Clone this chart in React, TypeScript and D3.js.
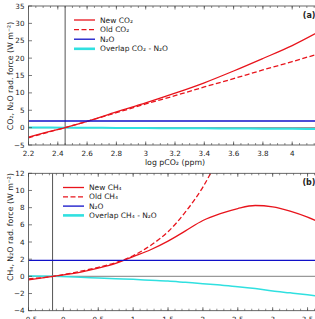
import React from "react";
import * as d3 from "d3";

const co2X = [2.2, 2.3, 2.45, 2.6, 2.8, 3.0, 3.2, 3.4, 3.6, 3.8, 4.0, 4.2];
const newCO2 = [-2.7, -1.6, 0, 1.8, 4.5, 7.1, 9.9, 12.9, 16.3, 19.9, 23.6, 28.0];
const oldCO2 = [-2.9, -1.7, 0, 1.8, 4.3, 6.8, 9.2, 11.7, 14.1, 16.6, 19.0, 21.5];
const overlapCO2 = [0.05, 0.03, 0, -0.04, -0.08, -0.12, -0.17, -0.21, -0.26, -0.3, -0.35, -0.4];
const n2oTop = 1.9;

const ch4X = [-0.5, -0.15, 0.25, 0.5, 0.75, 1.0, 1.25, 1.5, 1.75, 2.0, 2.25, 2.5, 2.75, 3.0, 3.25, 3.5, 3.7];
const newCH4 = [-0.4, 0, 0.5, 0.95, 1.5, 2.3, 3.1, 4.1, 5.3, 6.5, 7.3, 7.9, 8.25, 8.1, 7.6, 6.9, 6.2];
const oldCH4X = [-0.5, -0.15, 0.25, 0.5, 0.75, 1.0, 1.25, 1.5, 1.75, 2.0, 2.25];
const oldCH4 = [-0.3, 0, 0.6, 1.05, 1.6, 2.4, 3.6, 5.2, 7.5, 10.4, 14.2];
const overlapCH4 = [0.05, 0, -0.1, -0.2, -0.28, -0.35, -0.45, -0.55, -0.7, -0.85, -1.02, -1.2, -1.42, -1.7, -1.92, -2.15, -2.35];
const n2oBottom = 1.85;

const topXTicks = [2.2, 2.4, 2.6, 2.8, 3.0, 3.2, 3.4, 3.6, 3.8, 4.0, 4.2];
const topYTicks = [-5, 0, 5, 10, 15, 20, 25, 30, 35];
const botXTicks = [-0.5, 0, 0.5, 1, 1.5, 2, 2.5, 3, 3.5];
const botYTicks = [-4, -2, 0, 2, 4, 6, 8, 10, 12];

const RED = "#e8141c";
const BLUE = "#1010c8";
const CYAN = "#30e0e0";
const FONT = "DejaVu Sans, sans-serif";

const fmt = (v: number) => {
  const s = d3.format("~g")(Math.abs(v));
  return (v < 0 ? "\u2212" : "") + s;
};

function Panel(props: {
  id: string;
  xDomain: [number, number];
  yDomain: [number, number];
  top: number;
  bottom: number;
  xTicks: number[];
  yTicks: number[];
  xMinorStep: number;
  vline: number;
  label: string;
  yLabel: React.ReactNode;
  yLabelY: number;
  xLabel?: React.ReactNode;
  series: { xs: number[]; ys: number[]; color: string; dash?: string; width: number }[];
  hline: number;
  legend: { text: React.ReactNode; color: string; dash?: string; width: number }[];
  legendX: number;
  legendY: number;
  legendDy: number;
}) {
  const left = 28.5;
  const right = 321.5;
  const x = d3.scaleLinear().domain(props.xDomain).range([left, right]);
  const y = d3.scaleLinear().domain(props.yDomain).range([props.bottom, props.top]);
  const line = d3
    .line<[number, number]>()
    .x((d) => x(d[0]))
    .y((d) => y(d[1]))
    .curve(d3.curveMonotoneX);
  const minor = d3.range(props.xDomain[0], props.xDomain[1] + 1e-9, props.xMinorStep);
  const clipId = "clip-" + props.id;
  return (
    <g>
      <defs>
        <clipPath id={clipId}>
          <rect x={left} y={props.top} width={right - left} height={props.bottom - props.top} />
        </clipPath>
      </defs>
      <g clipPath={`url(#${clipId})`}>
        <line x1={left} x2={right} y1={y(0)} y2={y(0)} stroke="#999" strokeWidth={1.2} />
        <line x1={x(props.vline)} x2={x(props.vline)} y1={props.top} y2={props.bottom} stroke="#555" strokeWidth={1} />
        {props.series.map((s, i) => (
          <path
            key={i}
            d={line(s.xs.map((v, j) => [v, s.ys[j]] as [number, number])) || ""}
            fill="none"
            stroke={s.color}
            strokeWidth={s.width}
            strokeDasharray={s.dash}
          />
        ))}
        <line x1={left} x2={right} y1={y(props.hline)} y2={y(props.hline)} stroke={BLUE} strokeWidth={1.3} />
      </g>
      <rect x={left} y={props.top} width={right - left} height={props.bottom - props.top} fill="none" stroke="#444" strokeWidth={0.8} />
      {minor.map((v, i) => (
        <g key={"mi" + i}>
          <line x1={x(v)} x2={x(v)} y1={props.bottom} y2={props.bottom - 2} stroke="#444" strokeWidth={0.6} />
          <line x1={x(v)} x2={x(v)} y1={props.top} y2={props.top + 2} stroke="#444" strokeWidth={0.6} />
        </g>
      ))}
      {props.xTicks.map((v, i) => (
        <g key={"xt" + i}>
          <line x1={x(v)} x2={x(v)} y1={props.bottom} y2={props.bottom - 3.5} stroke="#444" strokeWidth={0.7} />
          <line x1={x(v)} x2={x(v)} y1={props.top} y2={props.top + 3.5} stroke="#444" strokeWidth={0.7} />
          {x(v) < 312 ? (
            <text x={x(v)} y={props.bottom + 11} fontSize={7.2} textAnchor="middle" fontFamily={FONT} fill="#222">
              {fmt(v)}
            </text>
          ) : null}
        </g>
      ))}
      {props.yTicks.map((v, i) => (
        <g key={"yt" + i}>
          <line x1={left} x2={left + 3.5} y1={y(v)} y2={y(v)} stroke="#444" strokeWidth={0.7} />
          <text x={left - 4} y={y(v) + 2.5} fontSize={7.2} textAnchor="end" fontFamily={FONT} fill="#222">
            {fmt(v)}
          </text>
        </g>
      ))}
      <text
        transform={`translate(12.5,${props.yLabelY}) rotate(-90)`}
        fontSize={7.8}
        textAnchor="middle"
        fontFamily={FONT}
        fill="#222"
      >
        {props.yLabel}
      </text>
      {props.xLabel ? (
        <text x={(left + right) / 2} y={props.bottom + 20} fontSize={7.8} textAnchor="middle" fontFamily={FONT} fill="#222">
          {props.xLabel}
        </text>
      ) : null}
      <text x={315.5} y={props.top + 11.5} fontSize={8} fontWeight="bold" textAnchor="end" fontFamily={FONT} fill="#222">
        {props.label}
      </text>
      {props.legend.map((l, i) => {
        const ly = props.legendY + i * props.legendDy;
        return (
          <g key={"lg" + i}>
            <line
              x1={props.legendX}
              x2={props.legendX + 21}
              y1={ly}
              y2={ly}
              stroke={l.color}
              strokeWidth={l.width}
              strokeDasharray={l.dash}
            />
            <text x={props.legendX + 26} y={ly + 2.6} fontSize={7.5} fontFamily={FONT} fill="#222">
              {l.text}
            </text>
          </g>
        );
      })}
    </g>
  );
}

export default function App() {
  return (
    <svg width={315} height={319} style={{ position: "absolute", left: 0, top: 0, background: "#fff" }}>
      <Panel
        id="a"
        xDomain={[2.2, 4.2]}
        yDomain={[-5, 35]}
        top={6}
        bottom={145}
        xTicks={topXTicks}
        yTicks={topYTicks}
        xMinorStep={0.05}
        vline={2.45}
        label="(a)"
        yLabel="CO₂, N₂O rad. force (W m⁻²)"
        yLabelY={76}
        xLabel="log pCO₂ (ppm)"
        hline={n2oTop}
        series={[
          { xs: co2X, ys: overlapCO2, color: CYAN, width: 2 },
          { xs: co2X, ys: oldCO2, color: RED, dash: "5,2.5", width: 1.3 },
          { xs: co2X, ys: newCO2, color: RED, width: 1.3 },
        ]}
        legend={[
          { text: "New CO₂", color: RED, width: 1.3 },
          { text: "Old CO₂", color: RED, dash: "5,2.5", width: 1.3 },
          { text: "N₂O", color: BLUE, width: 1.3 },
          { text: "Overlap CO₂ - N₂O", color: CYAN, width: 2.6 },
        ]}
        legendX={74}
        legendY={20}
        legendDy={9.6}
      />
      <Panel
        id="b"
        xDomain={[-0.5, 3.7]}
        yDomain={[-4, 12]}
        top={173.3}
        bottom={310.7}
        xTicks={botXTicks}
        yTicks={botYTicks}
        xMinorStep={0.1}
        vline={-0.155}
        label="(b)"
        yLabel="CH₄, N₂O rad. force (W m⁻²)"
        yLabelY={227}
        hline={n2oBottom}
        series={[
          { xs: ch4X, ys: overlapCH4, color: CYAN, width: 1.5 },
          { xs: oldCH4X, ys: oldCH4, color: RED, dash: "5,2.5", width: 1.3 },
          { xs: ch4X, ys: newCH4, color: RED, width: 1.3 },
        ]}
        legend={[
          { text: "New CH₄", color: RED, width: 1.3 },
          { text: "Old CH₄", color: RED, dash: "5,2.5", width: 1.3 },
          { text: "N₂O", color: BLUE, width: 1.3 },
          { text: "Overlap CH₄ - N₂O", color: CYAN, width: 2.6 },
        ]}
        legendX={63}
        legendY={187.5}
        legendDy={9.3}
      />
    </svg>
  );
}
